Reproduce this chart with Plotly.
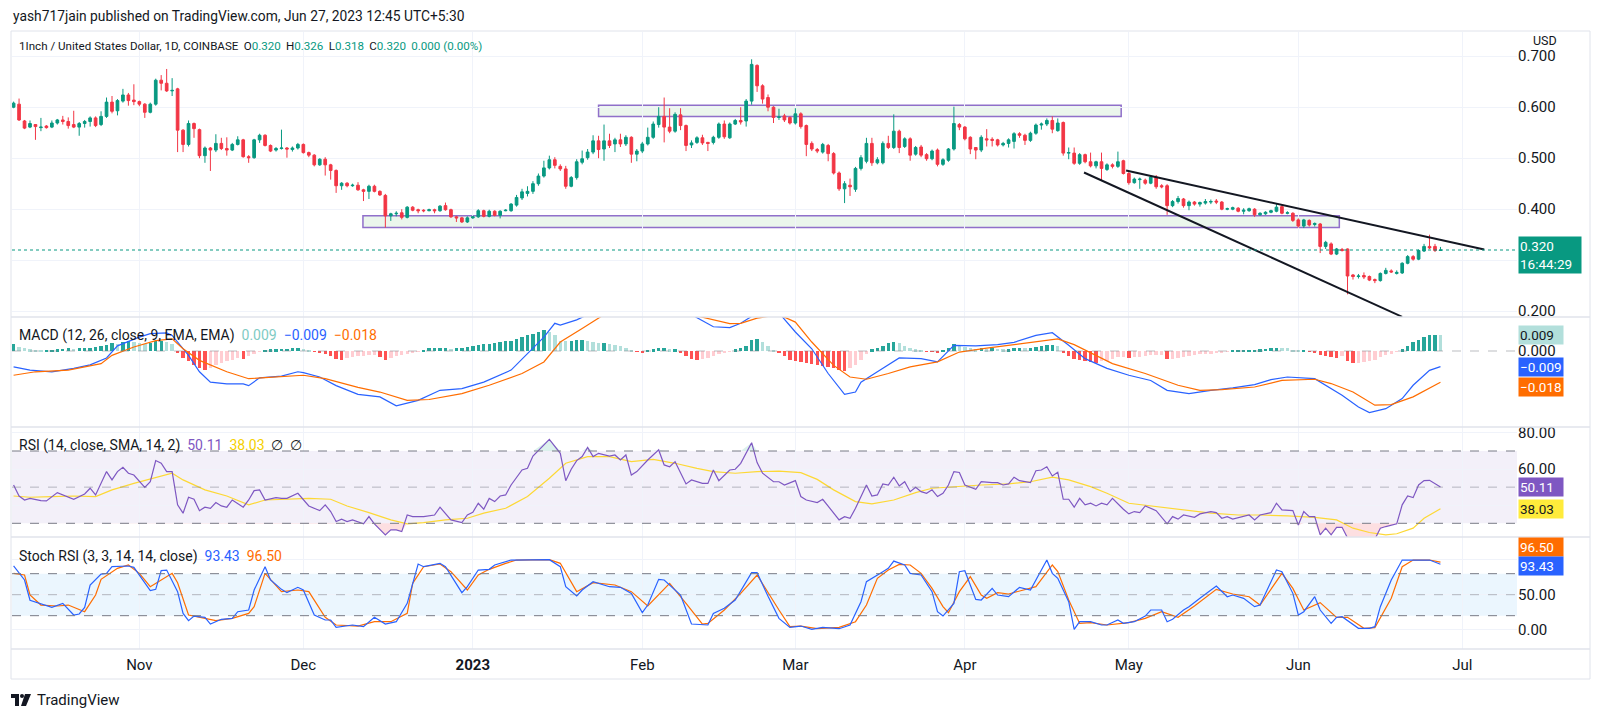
import pandas as pd
import numpy as np
import plotly.graph_objects as go
from plotly.subplots import make_subplots

START = pd.Timestamp("2022-10-09")

# ---------------- daily OHLC (1INCH/USD, Coinbase, 1D) ----------------
o_oct = [0.600,0.606,0.573,0.561,0.566,0.560,0.563,0.561,0.569,0.575,0.572,0.566,0.561,0.568,0.572,0.579,0.566,0.582,0.610,0.593,0.612,0.624,0.614]
h_oct = [0.611,0.617,0.575,0.574,0.567,0.579,0.565,0.574,0.577,0.583,0.580,0.593,0.571,0.575,0.582,0.582,0.592,0.619,0.622,0.616,0.636,0.628,0.645]
l_oct = [0.598,0.573,0.557,0.559,0.536,0.553,0.558,0.559,0.566,0.566,0.558,0.559,0.544,0.560,0.562,0.561,0.563,0.579,0.588,0.584,0.609,0.603,0.604]
c_oct = [0.608,0.575,0.559,0.568,0.562,0.561,0.560,0.569,0.575,0.572,0.564,0.561,0.568,0.572,0.579,0.564,0.582,0.610,0.592,0.613,0.624,0.613,0.611]

o_nov = [0.611,0.606,0.590,0.606,0.653,0.647,0.632,0.636,0.555,0.527,0.568,0.556,0.505,0.520,0.516,0.529,0.519,0.516,0.527,0.536,0.503,0.501,0.536,0.545,0.525,0.516,0.519,0.520,0.517,0.520]
h_nov = [0.613,0.608,0.609,0.656,0.663,0.675,0.657,0.638,0.557,0.574,0.570,0.558,0.523,0.522,0.547,0.540,0.541,0.530,0.543,0.538,0.506,0.538,0.548,0.547,0.527,0.522,0.556,0.522,0.523,0.530]
l_nov = [0.602,0.579,0.588,0.603,0.633,0.630,0.622,0.512,0.512,0.523,0.540,0.500,0.491,0.475,0.512,0.516,0.505,0.514,0.525,0.501,0.491,0.499,0.530,0.523,0.512,0.513,0.517,0.501,0.513,0.517]
c_nov = [0.606,0.590,0.606,0.653,0.647,0.632,0.633,0.555,0.527,0.568,0.558,0.505,0.520,0.516,0.529,0.519,0.516,0.527,0.536,0.503,0.501,0.536,0.545,0.525,0.514,0.519,0.520,0.518,0.520,0.527]

o_dec = [0.527,0.511,0.506,0.487,0.498,0.487,0.476,0.446,0.451,0.446,0.447,0.438,0.435,0.445,0.435,0.427,0.387,0.391,0.393,0.384,0.404,0.399,0.398,0.397,0.399,0.397,0.407,0.399,0.385,0.383,0.375]
h_dec = [0.529,0.513,0.508,0.500,0.502,0.489,0.478,0.453,0.453,0.450,0.453,0.440,0.448,0.448,0.437,0.430,0.393,0.396,0.400,0.406,0.406,0.401,0.400,0.401,0.401,0.408,0.413,0.401,0.387,0.385,0.386]
l_dec = [0.509,0.502,0.484,0.485,0.466,0.458,0.432,0.438,0.443,0.444,0.436,0.416,0.420,0.433,0.426,0.364,0.377,0.386,0.380,0.382,0.396,0.392,0.394,0.396,0.392,0.395,0.397,0.383,0.375,0.373,0.373]
c_dec = [0.511,0.506,0.487,0.498,0.487,0.476,0.446,0.451,0.446,0.447,0.438,0.435,0.445,0.435,0.428,0.387,0.391,0.392,0.384,0.404,0.398,0.397,0.397,0.399,0.397,0.406,0.399,0.385,0.383,0.375,0.383]

o_jan = [0.383,0.385,0.397,0.386,0.396,0.388,
         0.397,0.397,0.408,0.422,0.431,0.435,0.450,0.465,0.481,0.497,0.484,0.479,0.445,0.462,0.492,0.501,0.512,0.534,0.518,0.534,0.528,0.536,0.528,0.541,0.508]
h_jan = [0.387,0.400,0.399,0.399,0.398,0.398,
         0.400,0.412,0.428,0.440,0.445,0.455,0.470,0.495,0.505,0.502,0.488,0.485,0.465,0.498,0.515,0.518,0.545,0.544,0.566,0.548,0.540,0.548,0.545,0.543,0.518]
l_jan = [0.381,0.383,0.384,0.384,0.386,0.382,
         0.396,0.395,0.405,0.418,0.425,0.430,0.446,0.462,0.478,0.480,0.475,0.440,0.443,0.458,0.488,0.497,0.508,0.500,0.495,0.520,0.512,0.522,0.524,0.491,0.494]
c_jan = [0.385,0.397,0.386,0.396,0.388,0.396,
         0.398,0.410,0.423,0.434,0.435,0.450,0.465,0.481,0.497,0.486,0.479,0.445,0.462,0.493,0.499,0.512,0.534,0.517,0.534,0.525,0.536,0.528,0.541,0.508,0.514]

o_feb = [0.514,0.528,0.541,0.566,0.582,0.561,0.553,0.585,0.564,0.526,0.531,0.540,0.531,0.531,0.541,0.567,0.540,0.567,0.574,0.573,0.612,0.682,0.642,0.619,0.600,0.580,0.583,0.580]
h_feb = [0.532,0.560,0.572,0.600,0.619,0.598,0.590,0.598,0.566,0.535,0.543,0.546,0.532,0.544,0.570,0.574,0.570,0.577,0.600,0.616,0.694,0.684,0.645,0.625,0.602,0.597,0.587,0.582]
l_feb = [0.510,0.525,0.538,0.560,0.531,0.549,0.550,0.555,0.514,0.520,0.528,0.526,0.514,0.527,0.538,0.538,0.538,0.565,0.566,0.562,0.605,0.630,0.607,0.592,0.569,0.575,0.571,0.566]
c_feb = [0.528,0.541,0.567,0.582,0.561,0.553,0.586,0.564,0.525,0.530,0.540,0.530,0.529,0.541,0.567,0.542,0.567,0.574,0.571,0.612,0.684,0.642,0.616,0.600,0.580,0.581,0.575,0.569]

o_mar = [0.569,0.587,0.564,0.529,0.517,0.512,0.525,0.509,0.471,0.440,0.447,0.439,0.480,0.494,0.529,0.491,0.491,0.529,0.521,0.553,0.523,0.538,0.508,0.522,0.507,0.499,0.516,0.488,0.496,0.518,0.566]
h_mar = [0.598,0.590,0.566,0.533,0.520,0.530,0.528,0.512,0.474,0.455,0.460,0.483,0.506,0.540,0.540,0.502,0.533,0.544,0.586,0.556,0.541,0.541,0.524,0.526,0.510,0.517,0.519,0.500,0.520,0.601,0.569]
l_mar = [0.566,0.558,0.504,0.514,0.510,0.509,0.494,0.468,0.436,0.412,0.426,0.434,0.476,0.490,0.485,0.488,0.488,0.518,0.518,0.510,0.520,0.495,0.505,0.502,0.495,0.496,0.484,0.485,0.493,0.515,0.555]
c_mar = [0.587,0.562,0.527,0.518,0.514,0.527,0.509,0.471,0.440,0.450,0.444,0.480,0.501,0.529,0.491,0.497,0.529,0.521,0.553,0.521,0.538,0.506,0.521,0.506,0.499,0.514,0.488,0.497,0.518,0.568,0.561]

o_apr = [0.561,0.541,0.521,0.516,
         0.538,0.537,0.536,0.526,0.529,0.533,0.548,0.545,0.535,0.549,0.565,0.567,0.574,0.554,0.570,0.510,0.510,0.490,0.507,0.493,0.485,0.493,0.478,0.487,0.484,0.495]
h_apr = [0.563,0.543,0.522,0.545,
         0.557,0.541,0.538,0.532,0.539,0.551,0.551,0.548,0.552,0.568,0.570,0.578,0.582,0.578,0.572,0.521,0.521,0.510,0.509,0.511,0.495,0.511,0.490,0.490,0.513,0.497]
l_apr = [0.535,0.508,0.498,0.512,
         0.523,0.523,0.523,0.523,0.521,0.519,0.540,0.526,0.532,0.546,0.556,0.563,0.549,0.552,0.505,0.498,0.487,0.487,0.490,0.482,0.480,0.456,0.475,0.480,0.481,0.468]
c_apr = [0.538,0.518,0.516,0.541,
         0.536,0.535,0.526,0.529,0.536,0.548,0.545,0.535,0.549,0.565,0.567,0.574,0.557,0.569,0.510,0.511,0.490,0.507,0.493,0.485,0.493,0.480,0.487,0.484,0.493,0.470]

o_may = [0.470,0.452,0.458,0.457,0.451,0.463,0.446,0.446,0.407,0.415,0.420,0.407,0.414,0.410,0.412,0.414,0.416,0.414,0.400,0.400,0.402,0.396,0.397,0.400,0.389,0.391,0.394,0.396,0.405,0.392,0.392]
h_may = [0.473,0.462,0.462,0.460,0.466,0.467,0.449,0.449,0.418,0.426,0.422,0.417,0.416,0.415,0.420,0.419,0.420,0.416,0.403,0.405,0.404,0.402,0.403,0.402,0.394,0.396,0.399,0.411,0.408,0.396,0.394]
l_may = [0.448,0.450,0.440,0.448,0.449,0.440,0.441,0.389,0.404,0.411,0.403,0.398,0.407,0.405,0.409,0.410,0.410,0.398,0.398,0.398,0.394,0.390,0.395,0.385,0.387,0.389,0.392,0.394,0.390,0.390,0.375]
c_may = [0.452,0.459,0.459,0.451,0.463,0.444,0.444,0.407,0.415,0.421,0.407,0.414,0.410,0.413,0.415,0.415,0.414,0.400,0.401,0.403,0.396,0.398,0.401,0.389,0.392,0.394,0.397,0.404,0.392,0.393,0.378]

o_jun = [0.379,0.367,0.378,0.370,0.371,0.327,0.332,0.312,0.321,0.322,0.271,0.268,0.270,0.268,0.262,0.260,0.274,0.279,0.274,0.275,0.294,0.307,0.302,0.318,0.327,0.327,0.319]
h_jun = [0.382,0.381,0.380,0.374,0.373,0.338,0.335,0.324,0.324,0.323,0.273,0.273,0.276,0.270,0.264,0.276,0.285,0.282,0.280,0.296,0.310,0.310,0.321,0.332,0.350,0.332,0.326]
l_jun = [0.364,0.363,0.366,0.366,0.314,0.322,0.310,0.310,0.317,0.233,0.262,0.264,0.263,0.259,0.255,0.258,0.272,0.275,0.272,0.273,0.292,0.299,0.300,0.316,0.322,0.316,0.318]
c_jun = [0.367,0.379,0.369,0.372,0.327,0.335,0.312,0.322,0.319,0.269,0.268,0.269,0.267,0.261,0.260,0.274,0.280,0.277,0.276,0.294,0.307,0.302,0.319,0.327,0.324,0.319,0.320]

opens = o_oct + o_nov + o_dec + o_jan + o_feb + o_mar + o_apr + o_may + o_jun
highs = h_oct + h_nov + h_dec + h_jan + h_feb + h_mar + h_apr + h_may + h_jun
lows = l_oct + l_nov + l_dec + l_jan + l_feb + l_mar + l_apr + l_may + l_jun
closes = c_oct + c_nov + c_dec + c_jan + c_feb + c_mar + c_apr + c_may + c_jun
assert len(opens) == len(highs) == len(lows) == len(closes) == 262
dates = pd.date_range(START, periods=len(closes), freq="D")

# ---------------- MACD (values in thousandths) ----------------
hist_oct = [3.8,2.3,1.5,1.0,0.5,0.3,0.5,0.8,1.0,1.2,1.5,1.3,1.5,1.8,2.0,2.5,3.0,3.5,4.5,4.0,5.0,5.5,5.0]
hist_nov = [4.5,4.0,4.5,5.5,6.0,5.0,4.0,-1,-4,-6,-8,-10,-11,-10,-8,-7,-6,-5,-4,-4.5,-3,-1.5,-0.5,0.5,1.0,1.0,1.2,1.2,1.5,1.8]
hist_dec = [1.2,0.5,-0.5,-0.8,-2,-3,-4.5,-5,-4,-3.5,-3,-3,-2.5,-2.5,-3.5,-5,-4,-3,-2.5,-1.5,-1,-0.5,0.8,1.5,1.5,1.5,1.5,1.2,1.5,1.8,2.5]
hist_jan = [3,3.5,3.8,4.2,4.5,5,5.5,6,7,8,9,10,11,12,11,9,6,5.5,6,6.5,6.5,6,5,4.5,4.5,4,3.5,3,2,0.5,-0.5]
hist_feb = [-1,0.3,1,2,2,1,1,-1,-3,-4.5,-5,-4.5,-4,-3,-2,-1,-0.5,1,2,3,6.5,7,5,3,0.5,-1,-3,-5]
hist_mar = [-6,-6.5,-7,-7.5,-8,-8.5,-9,-10,-11,-11.5,-10,-8,-5,-2,1,2,3,4.5,5,4.5,3,2,1,0.5,-0.3,-0.5,-0.8,0.5,2,4,3.5]
hist_apr = [2.5,1.5,1,1.5,1,1.5,1.2,1,1,1.5,2,1.5,2,2.5,3,3.5,3.5,3,-1,-3,-4.5,-5,-6,-6.5,-7,-6,-5.5,-4.5,-3.5,-3.5]
hist_may = [-4,-3.5,-3.5,-3,-2.5,-2.5,-2.5,-4.5,-4.5,-4,-3.5,-3,-2.5,-2,-1.8,-1.5,-1,-1,-0.5,0.3,0.5,0.5,0.8,0.8,1,1.2,1.5,2,1.8,1.5,0.8]
hist_jun = [0.5,0.5,-0.3,-1,-2.5,-3,-3.5,-4,-3,-5.5,-7,-7,-6.5,-6,-5,-3.5,-2.5,-1.5,-0.5,1,3,5,6.5,8,9,9.5,9]
macd_hist = hist_oct + hist_nov + hist_dec + hist_jan + hist_feb + hist_mar + hist_apr + hist_may + hist_jun
assert len(macd_hist) == 262

macd_days = [0,3,7,11,14,17,19,23,25,28,29,32,34,36,39,42,43,45,49,52,53,56,59,63,67,70,74,78,82,86,91,94,97,99,100,103,105,109,115,120,124,128,131,133,135,137,140,143,146,149,152,154,155,158,162,166,169,172,176,180,183,187,190,193,196,200,204,208,211,215,219,223,227,230,233,238,240,243,246,248,251,254,256,259,261]
macd_vals = [-9.2,-11,-12,-10,-8,-4,3,8,10,10.5,9,-2.5,-12,-18,-19,-19,-20,-15.5,-14.5,-12,-12.5,-15,-20,-25,-26.5,-31.7,-28.5,-22.7,-21.7,-18,-11,-1.5,8,16,15,18,21,26,28,27,21,14,13.5,16,20,27,22,11,1.3,-13,-25,-23.7,-18,-12,-4,-4.4,-6.3,3.3,3,3.7,5,9,10.6,3.3,-4.4,-10,-14,-17,-22.7,-24.6,-22.7,-21.3,-19.4,-16.5,-15,-16,-19.8,-25.6,-32.3,-35.6,-33.3,-27.5,-19.8,-11.2,-9]
signal_days = [0,4,10,16,18,22,26,29,31,34,39,43,46,50,53,57,63,67,72,76,82,87,93,97,100,104,108,115,120,124,127,131,133,136,140,143,146,150,153,156,160,164,169,173,178,183,187,191,194,198,201,207,213,217,221,227,232,238,241,245,249,252,256,261]
signal_vals = [-14,-12,-11,-7.3,-2.5,2.3,6,7,1.3,-5.4,-12,-16,-15.4,-14.6,-14,-16,-21,-23.7,-28.5,-28,-24.6,-19.8,-13,-6.3,5.2,13,21,25,24,21,18.7,15.8,16,19,21,16.7,5.2,-8.3,-15,-16.3,-13,-9.2,-6.3,-0.6,1.7,3.7,5,7,3.7,-2.5,-7.3,-13,-19.8,-22.7,-22.3,-20.8,-17,-16.3,-18.8,-23.7,-31.3,-31,-26.5,-18]
assert len(macd_days) == len(macd_vals) and len(signal_days) == len(signal_vals)

# ---------------- RSI ----------------
rsi_days = [0,1,2,3,5,6,8,9,11,13,14,15,17,18,19,20,21,22,24,25,26,27,28,29,30,31,32,33,34,35,36,37,38,39,40,42,43,44,45,46,48,49,50,52,53,54,56,57,58,59,60,61,62,64,65,66,68,69,70,71,72,73,75,77,78,79,80,82,83,84,85,86,87,88,89,90,91,93,94,95,98,100,101,102,103,104,105,106,107,109,110,111,112,113,114,116,118,119,120,121,123,124,126,127,128,129,131,132,133,135,136,137,139,140,141,143,144,
            145,147,148,149,151,152,153,154,156,157,158,159,160,161,162,163,164,165,166,167,168,169,170,171,172,173,174,176,177,179,180,181,182,183,184,186,187,188,189,190,191,192,193,194,195,196,197,198,199,200,201,203,204,205,206,207,209,211,212,213,214,216,217,219,220,221,222,223,225,226,227,228,230,231,232,234,235,236,237,238,239,240,241,242,243,244,245,247,249,250,251,253,254,255,256,257,258,259,261]
rsi_vals = [51.2,45.1,42.9,43.8,42.6,42.4,47,45.7,43.3,46.2,49.4,45.7,58.6,54,58.6,61,57.7,56.7,49.9,53,64.7,63.2,58.6,58.6,40.2,35.6,44.4,43.3,37,38.9,38.3,41.5,39.6,38.9,42.9,38.9,42.9,48.1,48.5,42.9,44.2,43.8,43.8,46.6,42.9,39.6,37,40.2,36.5,31,32.3,31,31.9,29.7,33.7,29.7,23.6,26.4,26.4,25.4,34.6,33.7,33.7,34.6,38.9,35.2,31.9,30.4,34.6,36.1,41.1,37.8,43.8,42,45.1,45.7,51.2,59.5,60.4,67.2,76.4,68.7,53.6,59.9,64.7,66.9,72,66.9,68.7,67.2,67.8,65,67.8,56.7,58.6,65,70.6,62.3,61.3,64.1,51.8,54,52.1,52.1,59.5,53.6,59.5,59.9,63.2,74.6,63.6,57.7,53,53,51.2,53.6,44.8,
            42.9,41.5,43.3,39.6,31.9,33.7,32.8,38.3,51.2,45.1,45.7,51.8,51.2,55.5,50.7,53,47.5,49.9,47.5,46.6,48.5,44.8,46.6,51.2,58.6,58.1,51.2,48.8,53,52.5,52.5,51.2,51.8,55.5,53.6,52.5,59.1,59.5,61.3,56.2,58.2,43.3,43.3,38.9,43.8,40.2,41.1,39.6,41.1,40.2,43.8,37.8,35.2,36.5,35.9,39.6,37,29.7,33.7,32.3,34.6,33.3,35.2,36.5,35.9,32.8,33.7,32.3,33.7,34.6,31.9,34.6,35.9,41.1,37.4,37,29.1,36.5,33.7,33.7,23.6,27.3,23.6,27.8,27.8,21.9,21,20.5,21.2,27.3,28.2,29.7,40.2,45.1,44.2,51.2,53.6,53.8,50.11]
rsi_ma_days = [0,3,7,11,15,18,22,26,29,31,35,39,43,46,50,54,58,61,65,69,72,75,79,83,86,90,94,98,101,105,109,113,117,121,125,128,132,136,140,144,147,150,154,157,161,165,168,172,177,182,186,190,193,197,200,204,208,212,215,219,224,228,233,238,242,245,248,251,253,256,258,261]
rsi_ma_vals = [45.1,44.4,44.8,45.1,44.8,48.5,52.1,55.5,57.7,54,48.5,45.1,40.2,42.9,43.3,43.8,43.3,39.6,35.9,31.9,29.7,30.4,31.9,32.8,35.6,38.3,44.8,54.9,63.2,66.9,66.9,64.1,65.4,63.2,60.4,58.6,57.7,58.6,58.9,58,54.3,48.5,42,40.7,42.9,47,49.4,50.3,51.2,51.8,53,55.5,54,50.3,46.6,41.1,39.6,38.3,37,35.6,34.6,34.6,34.1,33.3,31.9,27.3,24.9,23.6,24.2,27.3,32.8,38.03]
assert len(rsi_days) == len(rsi_vals) and len(rsi_ma_days) == len(rsi_ma_vals)

# ---------------- Stoch RSI ----------------
k_days = [0,2,3,5,7,9,11,12,13,14,16,17,18,21,22,25,26,27,28,30,31,32,33,35,36,38,40,41,43,44,46,47,49,50,52,53,55,57,58,59,60,62,64,66,68,70,72,74,75,78,79,82,83,85,87,88,91,95,98,100,101,103,104,106,109,111,113,115,116,118,119,122,124,127,128,130,132,135,136,138,140,142,144,
          146,148,151,153,155,156,159,160,161,163,164,166,168,169,170,172,173,174,176,177,179,180,182,184,186,187,189,190,191,193,194,195,197,199,200,202,203,205,207,208,210,211,212,214,215,217,220,222,223,225,227,228,231,232,234,235,236,238,239,241,242,243,246,248,249,250,252,254,256,259,261]
k_vals = [91,71,42,36.7,31.9,37.6,21,22.4,31.9,63.8,79.5,80.5,90,91,89,55.7,57.6,84.3,85.2,54.3,23.3,12.9,19.5,17.6,8.1,14.8,16.2,25.7,28.1,56.7,90,71,57.6,52.9,60.5,56.7,21,13.8,13.8,3.3,4.3,6.7,4.3,17.6,8.1,11.4,37.6,93.8,90,94.8,90,52.9,61.4,85.2,86.2,92.4,99.5,100,100,90,61.4,48.1,56.7,68.6,61.4,60.5,51.9,24.3,35.2,71.9,71,49.5,8.1,6.7,23.3,30.5,42.4,81.4,81.4,47.6,16.2,3.3,5.2,
          0.5,3.3,1.4,6.7,40,68.6,82.9,87.6,98,92.4,80.5,78.1,54.3,25.7,19.5,37.6,82.9,84.3,43.3,42.4,59,49.5,47.1,60.5,56.7,71,99.5,80.5,73.3,40,0.5,11.4,11.4,6.7,6.7,13.8,9,11.4,19.5,28.1,28.1,11.4,14.8,28.1,32.9,44.8,62.4,47.1,49.5,44.8,32.9,35.2,85.2,82.9,51.9,21,25.7,47.1,28.1,9,17.6,18.6,1.9,1.9,4.3,32.9,71,99.5,99.5,99.5,93.43]
d_days = [0,2,3,5,8,10,13,15,16,19,21,23,25,29,30,32,35,37,40,43,44,46,49,52,54,57,59,63,66,69,72,73,75,78,80,83,85,87,90,92,98,100,103,106,110,113,116,120,123,126,127,130,133,136,140,142,144,
          147,151,154,156,158,160,162,164,166,168,170,171,173,175,177,178,180,182,185,187,190,191,193,195,197,200,204,207,210,213,216,220,223,226,228,232,234,236,239,242,244,247,249,252,254,256,259,261]
d_vals = [80.5,78.1,49.5,35.2,33.8,35.2,25.7,49.5,71.9,87.6,92.4,80.5,61.4,80.5,67.1,21,16.2,12.9,16.2,23.3,32.9,80.5,54.3,56.7,54.3,17.6,6.7,5.2,11.4,11.4,23.3,66.2,90,93.8,82.9,56.7,78.1,86.2,94.8,99.5,100,94.8,54.3,67.1,63.8,54.3,33.8,66.2,37.6,8.1,9,28.1,51.9,78.1,28.1,4.3,5.2,
          1.4,3.3,11.4,35.2,73.3,85.2,93.3,92.4,80.5,59,32.9,24.3,54.3,75.7,49.5,44.8,52.9,51,57.6,61.4,92.4,82.9,42.4,9,10,6.7,10,16.2,25.7,17.6,33.8,57.6,51,47.1,35.2,80.5,59,28.1,38.6,17.6,17.6,1.9,2.9,44.8,90,99.5,99.5,96.5]
assert len(k_days) == len(k_vals) and len(d_days) == len(d_vals)

# ---------------- drawings ----------------
res_zone_days = [107, 202.6]
res_zone_prices = [0.582, 0.604]
sup_zone_days = [63.9, 242.5]
sup_zone_prices = [0.364, 0.387]
upper_trend_days = [203.5, 269]
upper_trend_prices = [0.476, 0.321]
lower_trend_days = [195.8, 254]
lower_trend_prices = [0.472, 0.189]
last_price = 0.320

month_ticks = ["2022-11-01","2022-12-01","2023-01-01","2023-02-01","2023-03-01","2023-04-01","2023-05-01","2023-06-01","2023-07-01"]
month_labels = ["Nov","Dec","<b>2023</b>","Feb","Mar","Apr","May","Jun","Jul"]


def to_dates(days):
    return [START + pd.Timedelta(days=float(d)) for d in days]


FONT = "Roboto, sans-serif"
TXT = "#131722"
UP, DOWN = "#089981", "#F23645"

fig = make_subplots(rows=4, cols=1, shared_xaxes=True, vertical_spacing=0,
                    row_heights=[285, 110, 110, 112])

fig.add_trace(go.Candlestick(
    x=dates, open=opens, high=highs, low=lows, close=closes,
    increasing=dict(line=dict(color=UP, width=1), fillcolor=UP),
    decreasing=dict(line=dict(color=DOWN, width=1), fillcolor=DOWN),
    hoverinfo="skip"), row=1, col=1)

for days, prices in [(upper_trend_days, upper_trend_prices), (lower_trend_days, lower_trend_prices)]:
    fig.add_trace(go.Scatter(x=to_dates(days), y=prices, mode="lines",
                             line=dict(color="#131722", width=2), hoverinfo="skip"), row=1, col=1)

# MACD histogram colours
hist_cols = []
for k, v in enumerate(macd_hist):
    prev = macd_hist[k - 1] if k else v
    if v >= 0:
        hist_cols.append("#26A69A" if v >= prev else "#B2DFDB")
    else:
        hist_cols.append("#FF5252" if v < prev else "#FFCDD2")

fig.add_trace(go.Bar(x=dates, y=macd_hist, marker=dict(color=hist_cols, line=dict(width=0)),
                     width=0.62 * 86400000, hoverinfo="skip"), row=2, col=1)
fig.add_trace(go.Scatter(x=to_dates(macd_days), y=macd_vals, mode="lines",
                         line=dict(color="#2962FF", width=1.2), hoverinfo="skip"), row=2, col=1)
fig.add_trace(go.Scatter(x=to_dates(signal_days), y=signal_vals, mode="lines",
                         line=dict(color="#FF6D00", width=1.2), hoverinfo="skip"), row=2, col=1)

# RSI oversold / overbought fills
rd = to_dates(rsi_days)
rv = np.array(rsi_vals)
fig.add_trace(go.Scatter(x=rd, y=[30] * len(rd), mode="lines", line=dict(width=0), hoverinfo="skip"), row=3, col=1)
fig.add_trace(go.Scatter(x=rd, y=np.minimum(rv, 30), mode="lines", line=dict(width=0), fill="tonexty",
                         fillcolor="rgba(242,54,69,0.16)", hoverinfo="skip"), row=3, col=1)
fig.add_trace(go.Scatter(x=rd, y=[70] * len(rd), mode="lines", line=dict(width=0), hoverinfo="skip"), row=3, col=1)
fig.add_trace(go.Scatter(x=rd, y=np.maximum(rv, 70), mode="lines", line=dict(width=0), fill="tonexty",
                         fillcolor="rgba(8,153,129,0.14)", hoverinfo="skip"), row=3, col=1)
fig.add_trace(go.Scatter(x=to_dates(rsi_ma_days), y=rsi_ma_vals, mode="lines",
                         line=dict(color="#FDD835", width=1.2), hoverinfo="skip"), row=3, col=1)
fig.add_trace(go.Scatter(x=rd, y=rsi_vals, mode="lines",
                         line=dict(color="#7E57C2", width=1.2), hoverinfo="skip"), row=3, col=1)

fig.add_trace(go.Scatter(x=to_dates(d_days), y=d_vals, mode="lines",
                         line=dict(color="#FF6D00", width=1.2), hoverinfo="skip"), row=4, col=1)
fig.add_trace(go.Scatter(x=to_dates(k_days), y=k_vals, mode="lines",
                         line=dict(color="#2962FF", width=1.2), hoverinfo="skip"), row=4, col=1)

# ---------------- layout ----------------
L, R, T, B = 12, 83, 32, 69
W, H = 1600 - L - R, 718 - T - B
PLOT_BOTTOM = 718 - B


def px(x):
    return (x - L) / W


def py(y):
    return (PLOT_BOTTOM - y) / H


x_range = [START - pd.Timedelta(hours=7), START + pd.Timedelta(days=275)]
fig.update_layout(
    width=1600, height=718, margin=dict(l=L, r=R, t=T, b=B),
    paper_bgcolor="white", plot_bgcolor="white", showlegend=False,
    font=dict(family=FONT, size=14, color=TXT), bargap=0,
)
fig.update_xaxes(type="date", range=x_range, tickvals=month_ticks, ticktext=month_labels,
                 showgrid=True, gridcolor="#F0F3FA", gridwidth=1, zeroline=False, showline=False,
                 ticks="", tickfont=dict(size=15, color=TXT), rangeslider=dict(visible=False),
                 automargin=False)
fig.update_xaxes(showticklabels=False, row=1, col=1)
fig.update_xaxes(showticklabels=False, row=2, col=1)
fig.update_xaxes(showticklabels=False, row=3, col=1)
fig.update_xaxes(showticklabels=True, ticklabelstandoff=5, row=4, col=1)

common_y = dict(side="right", showgrid=True, gridcolor="#F0F3FA", zeroline=False, showline=False,
                ticks="", tickfont=dict(size=15, color=TXT), fixedrange=True, automargin=False)
fig.update_yaxes(**common_y)
fig.update_yaxes(domain=[332 / H, 1], range=[0.1886, 0.7475],
                 tickvals=[0.2, 0.3, 0.4, 0.5, 0.6, 0.7],
                 ticktext=["0.200", "", "0.400", "0.500", "0.600", "0.700"], row=1, col=1)
fig.update_yaxes(domain=[222 / H, 332 / H], range=[-43.9, 19.65], tickvals=[0], ticktext=["0.000"],
                 showgrid=False, row=2, col=1)
fig.update_yaxes(domain=[112 / H, 222 / H], range=[22.42, 83.28], tickvals=[40, 60, 80],
                 ticktext=["", "60.00", "80.00"], row=3, col=1)
fig.update_yaxes(domain=[0, 112 / H], range=[-27.6, 132.4], tickvals=[0, 50, 100],
                 ticktext=["0.00", "50.00", ""], row=4, col=1)

shapes = []
shapes.append(dict(type="rect", xref="x3 domain", yref="y3", x0=0, x1=1, y0=30, y1=70,
                   fillcolor="rgba(126,87,194,0.09)", line=dict(width=0), layer="below"))
shapes.append(dict(type="rect", xref="x4 domain", yref="y4", x0=0, x1=1, y0=20, y1=80,
                   fillcolor="rgba(33,150,243,0.09)", line=dict(width=0), layer="below"))
for yref, xref, lvl, col in [("y3", "x3 domain", 70, "#787B86"), ("y3", "x3 domain", 30, "#787B86"),
                             ("y3", "x3 domain", 50, "rgba(120,123,134,0.5)"),
                             ("y4", "x4 domain", 80, "#787B86"), ("y4", "x4 domain", 20, "#787B86"),
                             ("y4", "x4 domain", 50, "rgba(120,123,134,0.5)"),
                             ("y2", "x2 domain", 0, "rgba(120,123,134,0.5)")]:
    shapes.append(dict(type="line", xref=xref, yref=yref, x0=0, x1=1, y0=lvl, y1=lvl,
                       line=dict(color=col, width=1, dash="dash")))
for days, prices in [(res_zone_days, res_zone_prices), (sup_zone_days, sup_zone_prices)]:
    dd = to_dates(days)
    shapes.append(dict(type="rect", xref="x", yref="y", x0=dd[0], x1=dd[1], y0=prices[0], y1=prices[1],
                       fillcolor="rgba(76,175,80,0.11)", line=dict(color="rgba(126,87,194,0.85)", width=1.5),
                       layer="below"))
shapes.append(dict(type="line", xref="x domain", yref="y", x0=0, x1=1, y0=last_price, y1=last_price,
                   line=dict(color=UP, width=1, dash="dot")))
shapes.append(dict(type="rect", xref="paper", yref="paper", x0=px(11), x1=px(1590), y0=py(679), y1=py(31),
                   line=dict(color="#E0E3EB", width=1)))
for ysep in [317, 427, 537, 649]:
    shapes.append(dict(type="line", xref="paper", yref="paper", x0=px(11), x1=px(1590), y0=py(ysep), y1=py(ysep),
                       line=dict(color="#E0E3EB", width=1.5)))
shapes.append(dict(type="path", xref="paper", yref="paper",
                   path=f"M {px(11)},{py(694)} L {px(19)},{py(694)} L {px(19)},{py(706)} L {px(15)},{py(706)} L {px(15)},{py(698)} L {px(11)},{py(698)} Z",
                   fillcolor="#131722", line=dict(width=0)))
shapes.append(dict(type="circle", xref="paper", yref="paper", x0=px(20), x1=px(24), y0=py(698), y1=py(694),
                   fillcolor="#131722", line=dict(width=0)))
shapes.append(dict(type="path", xref="paper", yref="paper",
                   path=f"M {px(25)},{py(694)} L {px(31)},{py(694)} L {px(26)},{py(706)} L {px(21)},{py(706)} Z",
                   fillcolor="#131722", line=dict(width=0)))
fig.update_layout(shapes=shapes)

S = "\u00a0\u00a0"
S1 = "\u00a0\u2009"


def span(t, c):
    return f'<span style="color:{c}">{t}</span>'


ann = []
ann.append(dict(text="yash717jain published on TradingView.com, Jun 27, 2023 12:45 UTC+5:30",
                xref="paper", yref="paper", x=0, y=1, xanchor="left", yanchor="middle", xshift=-1, yshift=16,
                showarrow=False, font=dict(size=13.8, color=TXT)))
ann.append(dict(text="1Inch / United States Dollar, 1D, COINBASE" + S1 + "O" + span("0.320", UP) + S1 + "H" + span("0.326", UP)
                + S1 + "L" + span("0.318", UP) + S1 + "C" + span("0.320", UP) + S1 + span("0.000 (0.00%)", UP),
                xref="paper", yref="paper", x=0, y=1, xanchor="left", yanchor="middle", xshift=5, yshift=-14,
                showarrow=False, font=dict(size=11.6, color=TXT)))
ann.append(dict(text="MACD (12, 26, close, 9, EMA, EMA)" + S + span("0.009", "#80CBC4") + S + span("\u22120.009", "#2962FF")
                + S + span("\u22120.018", "#FF6D00"),
                xref="paper", yref="y2 domain", x=0, y=1, xanchor="left", yanchor="middle", xshift=5, yshift=-18,
                showarrow=False, font=dict(size=14, color=TXT)))
ann.append(dict(text="RSI (14, close, SMA, 14, 2)" + S + span("50.11", "#7E57C2") + S + span("38.03", "#F5D000")
                + S + "\u2205" + S + "\u2205",
                xref="paper", yref="y3 domain", x=0, y=1, xanchor="left", yanchor="middle", xshift=5, yshift=-19,
                showarrow=False, font=dict(size=14, color=TXT)))
ann.append(dict(text="Stoch RSI (3, 3, 14, 14, close)" + S + span("93.43", "#2962FF") + S + span("96.50", "#FF6D00"),
                xref="paper", yref="y4 domain", x=0, y=1, xanchor="left", yanchor="middle", xshift=5, yshift=-19,
                showarrow=False, font=dict(size=14, color=TXT)))
ann.append(dict(text="USD", xref="paper", yref="paper", x=1, y=1, xanchor="left", yanchor="middle",
                xshift=14, yshift=-8, showarrow=False, font=dict(size=12.5, color=TXT)))
ann.append(dict(text="TradingView", xref="paper", yref="paper", x=px(35), y=py(700), xanchor="left",
                yanchor="middle", showarrow=False, font=dict(size=15, color=TXT)))


def box(text, y, yref, bg, fg, yshift=0, width=42):
    return dict(text=text, xref="paper", yref=yref, x=1, y=y, xanchor="left", yanchor="middle",
                xshift=1, yshift=yshift, showarrow=False, bgcolor=bg, borderpad=1, width=width,
                align="left", font=dict(size=13.5, color=fg))


ann.append(box("0.320<br>16:44:29", last_price, "y", UP, "white", yshift=-5, width=60))
ann.append(box("0.009", 9, "y2", "#B2DFDB", TXT))
ann.append(box("\u22120.009", -9, "y2", "#2962FF", "white"))
ann.append(box("\u22120.018", -18, "y2", "#FF6D00", "white", yshift=-5))
ann.append(box("50.11", 50.11, "y3", "#7E57C2", "white"))
ann.append(box("38.03", 38.03, "y3", "#FFEB3B", TXT))
ann.append(box("96.50", 96.5, "y4", "#FF6D00", "white", yshift=15))
ann.append(box("93.43", 93.43, "y4", "#2962FF", "white", yshift=-2))
fig.update_layout(annotations=ann)

fig.write_html("out.html", config={"displayModeBar": False},
               post_script="document.body.style.margin='0px';document.body.style.overflow='hidden';")
